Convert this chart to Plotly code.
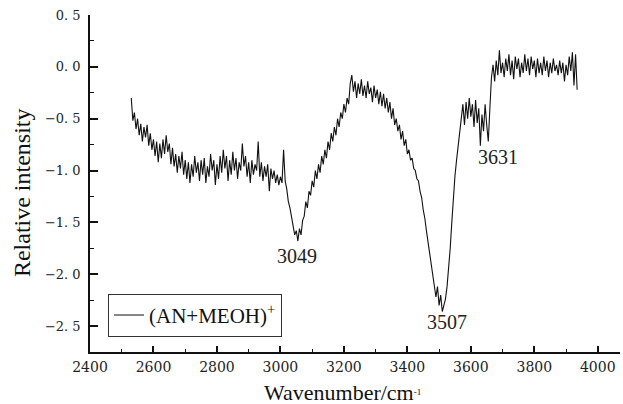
import plotly.graph_objects as go

wavenumber = [
    2530, 2535, 2540, 2545, 2550, 2555, 2560, 2565, 2570, 2575,
    2580, 2585, 2590, 2595, 2600, 2605, 2610, 2615, 2620, 2625,
    2630, 2635, 2640, 2645, 2650, 2655, 2660, 2665, 2670, 2675,
    2680, 2685, 2690, 2695, 2700, 2705, 2710, 2715, 2720, 2725,
    2730, 2735, 2740, 2745, 2750, 2755, 2760, 2765, 2770, 2775,
    2780, 2785, 2790, 2795, 2800, 2805, 2810, 2815, 2820, 2825,
    2830, 2835, 2840, 2845, 2850, 2855, 2860, 2865, 2870, 2875,
    2880, 2885, 2890, 2895, 2900, 2905, 2910, 2915, 2920, 2925,
    2930, 2935, 2940, 2945, 2950, 2955, 2960, 2965, 2970, 2975,
    2980, 2985, 2990, 2995, 3000, 3005, 3010, 3015, 3020, 3025,
    3030, 3035, 3040, 3045, 3050, 3055, 3060, 3065, 3070, 3075,
    3080, 3085, 3090, 3095, 3100, 3105, 3110, 3115, 3120, 3125,
    3130, 3135, 3140, 3145, 3150, 3155, 3160, 3165, 3170, 3175,
    3180, 3185, 3190, 3195, 3200, 3205, 3210, 3215, 3220, 3225,
    3230, 3235, 3240, 3245, 3250, 3255, 3260, 3265, 3270, 3275,
    3280, 3285, 3290, 3295, 3300, 3305, 3310, 3315, 3320, 3325,
    3330, 3335, 3340, 3345, 3350, 3355, 3360, 3365, 3370, 3375,
    3380, 3385, 3390, 3395, 3400, 3405, 3410, 3415, 3420, 3425,
    3430, 3435, 3440, 3445, 3450, 3455, 3460, 3465, 3470, 3475,
    3480, 3485, 3490, 3495, 3500, 3505, 3510, 3515, 3520, 3525,
    3530, 3535, 3540, 3545, 3550, 3555, 3560, 3565, 3570, 3575,
    3580, 3585, 3590, 3595, 3600, 3605, 3610, 3615, 3620, 3625,
    3630, 3635, 3640, 3645, 3650, 3655, 3660, 3665, 3670, 3675,
    3680, 3685, 3690, 3695, 3700, 3705, 3710, 3715, 3720, 3725,
    3730, 3735, 3740, 3745, 3750, 3755, 3760, 3765, 3770, 3775,
    3780, 3785, 3790, 3795, 3800, 3805, 3810, 3815, 3820, 3825,
    3830, 3835, 3840, 3845, 3850, 3855, 3860, 3865, 3870, 3875,
    3880, 3885, 3890, 3895, 3900, 3905, 3910, 3915, 3920, 3925,
    3930, 3935,
]

intensity = [
    -0.30, -0.52, -0.44, -0.60, -0.50, -0.66, -0.55, -0.72, -0.58, -0.68,
    -0.56, -0.76, -0.64, -0.80, -0.70, -0.86, -0.72, -0.92, -0.74, -0.88,
    -0.70, -0.84, -0.66, -0.82, -0.74, -0.94, -0.78, -0.96, -0.84, -1.02,
    -0.86, -0.98, -0.82, -1.04, -0.90, -1.08, -0.92, -1.12, -0.94, -1.06,
    -0.86, -1.02, -0.92, -1.10, -0.90, -1.04, -0.88, -1.12, -0.96, -1.06,
    -0.84, -1.00, -0.90, -1.14, -0.94, -1.08, -0.86, -1.02, -0.80, -0.98,
    -0.86, -1.10, -0.90, -1.04, -0.82, -1.00, -0.88, -1.08, -0.92, -1.00,
    -0.74, -0.96, -0.86, -1.06, -0.92, -1.12, -0.90, -1.04, -0.94, -1.00,
    -0.72, -1.06, -0.92, -1.10, -0.96, -1.06, -0.94, -1.20, -0.98, -1.08,
    -1.00, -1.12, -1.04, -1.14, -1.06, -1.12, -0.80, -1.10, -1.18, -1.30,
    -1.36, -1.44, -1.52, -1.62, -1.58, -1.68, -1.56, -1.62, -1.48, -1.44,
    -1.30, -1.36, -1.20, -1.24, -1.10, -1.16, -1.00, -1.08, -0.94, -1.02,
    -0.86, -0.94, -0.80, -0.88, -0.72, -0.80, -0.64, -0.72, -0.58, -0.66,
    -0.50, -0.58, -0.44, -0.50, -0.36, -0.44, -0.30, -0.36, -0.16, -0.08,
    -0.24, -0.14, -0.30, -0.16, -0.26, -0.12, -0.28, -0.18, -0.30, -0.14,
    -0.26, -0.20, -0.34, -0.18, -0.30, -0.22, -0.36, -0.24, -0.38, -0.26,
    -0.40, -0.30, -0.44, -0.34, -0.50, -0.40, -0.56, -0.50, -0.62, -0.56,
    -0.70, -0.62, -0.76, -0.70, -0.84, -0.80, -0.90, -0.88, -0.98, -1.00,
    -1.08, -1.10, -1.20, -1.26, -1.38, -1.46, -1.58, -1.68, -1.80, -1.90,
    -2.00, -2.08, -2.22, -2.12, -2.30, -2.20, -2.36, -2.30, -2.24, -2.12,
    -1.95, -1.75, -1.50, -1.25, -1.05, -0.90, -0.75, -0.62, -0.50, -0.36,
    -0.56, -0.34, -0.50, -0.30, -0.48, -0.36, -0.58, -0.32, -0.54, -0.40,
    -0.76, -0.46, -0.62, -0.36, -0.56, -0.72, -0.40, -0.10, 0.02, -0.14,
    0.06, -0.08, 0.16, -0.06, 0.04, -0.10, 0.08, -0.04, 0.12, -0.08,
    0.06, -0.12, 0.10, -0.02, 0.08, -0.10, 0.04, -0.06, 0.12, -0.04,
    0.08, -0.08, 0.10, -0.02, 0.06, -0.10, 0.08, -0.06, 0.04, -0.08,
    0.10, -0.04, 0.06, -0.10, 0.04, -0.06, 0.08, -0.04, 0.02, -0.08,
    0.06, -0.06, 0.04, -0.14, 0.02, -0.08, 0.10, -0.04, 0.14, -0.18,
    0.12, -0.22,
]

peak_labels = ["3049", "3507", "3631"]
peak_x = [3052, 3525, 3685]
peak_y = [-1.82, -2.46, -0.87]

x_tickvals = [2400, 2600, 2800, 3000, 3200, 3400, 3600, 3800, 4000]
x_ticktext = ["2400", "2600", "2800", "3000", "3200", "3400", "3600", "3800", "4000"]
y_tickvals = [0.5, 0.0, -0.5, -1.0, -1.5, -2.0, -2.5]
y_ticktext = ["0. 5", "0. 0", "\u22120. 5", "\u22121. 0", "\u22121. 5", "\u22122. 0", "\u22122. 5"]

serif = "Liberation Serif"
tickfam = "'DejaVu Serif', serif"

fig = go.Figure()
fig.add_trace(go.Scatter(
    x=wavenumber, y=intensity, mode="lines",
    line=dict(color="#111111", width=1.1),
    name="(AN+MEOH)<sup>+</sup>",
))

annotations = []
for t, xv, yv in zip(peak_labels, peak_x, peak_y):
    annotations.append(dict(x=xv, y=yv, xref="x", yref="y", text=t, showarrow=False,
                            xanchor="center", yanchor="middle",
                            font=dict(family=serif, size=20, color="#222222")))
annotations.append(dict(x=-0.128, y=0.472, xref="paper", yref="paper",
                        xanchor="center", yanchor="middle",
                        text="Relative intensity", textangle=-90, showarrow=False,
                        font=dict(family=serif, size=24, color="#111111")))
annotations.append(dict(x=0.477, y=-0.12, xref="paper", yref="paper",
                        xanchor="center", yanchor="middle",
                        text="Wavenumber/cm<span style='font-size:13px'><sup>-1</sup></span>",
                        showarrow=False,
                        font=dict(family=serif, size=22, color="#111111")))

fig.update_layout(
    width=623, height=404,
    margin=dict(l=90, r=3, t=15, b=52),
    paper_bgcolor="white", plot_bgcolor="white",
    showlegend=True,
    legend=dict(x=0.034, y=0.045, xanchor="left", yanchor="bottom",
                bordercolor="#333333", borderwidth=1, bgcolor="white",
                font=dict(family=serif, size=21, color="#111111"),
                tracegroupgap=0, itemwidth=30),
    annotations=annotations,
)

fig.update_xaxes(
    range=[2400, 4070], showgrid=False, zeroline=False,
    showline=True, linecolor="#111111", linewidth=1.5,
    ticks="inside", ticklen=6, tickwidth=1.5, tickcolor="#111111",
    tickvals=x_tickvals, ticktext=x_ticktext,
    tickfont=dict(family=tickfam, size=14, color="#222222"),
    ticklabelstandoff=1,
    minor=dict(dtick=100, tick0=2400, ticks="inside", ticklen=3, tickwidth=1.2, tickcolor="#111111"),
)
fig.update_yaxes(
    range=[-2.75, 0.5], showgrid=False, zeroline=False,
    showline=True, linecolor="#111111", linewidth=1.5,
    ticks="inside", ticklen=8, tickwidth=1.5, tickcolor="#111111",
    tickvals=y_tickvals, ticktext=y_ticktext,
    tickfont=dict(family=tickfam, size=13, color="#222222"),
    ticklabelstandoff=5,
    minor=dict(dtick=0.25, tick0=0, ticks="inside", ticklen=4, tickwidth=1.2, tickcolor="#111111"),
)

fig.write_html("out.html")
